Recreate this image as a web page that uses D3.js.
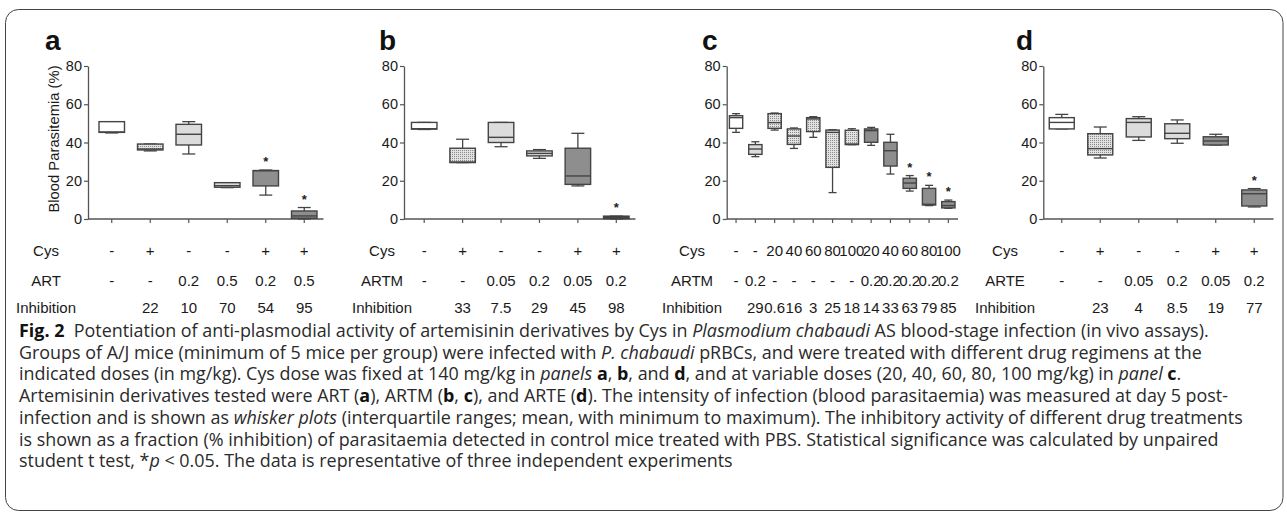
<!DOCTYPE html>
<html><head><meta charset="utf-8">
<script src="https://cdn.jsdelivr.net/npm/d3@7"></script>
<style>body{margin:0;background:#fff} svg{display:block}</style>
</head><body><svg id="chart" width="1287" height="517"></svg>
<script>
// ---------- DATA ----------
const yTicks = [0, 20, 40, 60, 80];
const yLabel = "Blood Parasitemia (%)";

// box stats: [min, q1, median, q3, max]
const aStats = [[45,45.3,45.5,50.9,50.9],[35.6,36.1,36.6,39.2,39.2],[34,38.7,44.3,49.5,50.9],[16.4,16.6,17.4,19,19],[12.5,17.3,25.3,25.3,25.6],[0,0.4,1.6,4.2,6.0]];
const aFill = ["white","dotted","light","light","dark","dark"];
const aSig  = [0,0,0,0,1,1];
const aCys  = ["-","+","-","-","+","+"];
const aDrug = ["-","-","0.2","0.5","0.2","0.5"];
const aInh  = ["","22","10","70","54","95"];

const bStats = [[46.8,47,47.2,50.5,50.5],[29.5,29.5,29.8,37,41.7],[37.8,40,42.7,50.5,50.5],[31.7,33,34.3,35.6,36.3],[17.3,18.1,22.5,37,44.8],[0,0.2,0.8,1.5,1.5]];
const bFill = ["white","dotted","light","light","dark","black"];
const bSig  = [0,0,0,0,0,1];
const bCys  = ["-","+","-","-","+","+"];
const bDrug = ["-","-","0.05","0.2","0.05","0.2"];
const bInh  = ["","33","7.5","29","45","98"];

const cStats = [[45.3,47.4,53,54,55.1],[32.6,33.8,36.6,38.9,40.4],[46.5,47.4,50.4,55.1,55.4],[36.9,39,43.4,47.1,47.6],[42.7,45.7,52.3,53,53.5],[13.8,27,45.3,46.5,46.7],[38.9,38.9,39.2,46.4,47.2],[38.5,40.1,46.2,47.1,47.9],[23.5,27.7,35.7,40.1,44.3],[14.6,16,18.8,21.3,22.7],[7,7.3,7.7,16,17.6],[5.6,5.8,7,9.1,9.9]];
const cFill = ["white","light","dotted","dotted","dotted","dotted","dotted","dark","dark","dark","dark","dark"];
const cSig  = [0,0,0,0,0,0,0,0,0,1,1,1];
const cCys  = ["-","-","20","40","60","80","100","20","40","60","80","100"];
const cDrug = ["-","0.2","-","-","-","-","-","0.2","0.2","0.2","0.2","0.2"];
const cInh  = ["","29","0.6","16","3","25","18","14","33","63","79","85"];

const dStats = [[47.1,47.1,50.5,53,54.7],[31.9,33.5,36.8,44.6,48.1],[41.1,42.9,50.5,52.5,53.5],[39.6,42,44.8,49.8,51.8],[38.7,38.7,40.8,43,44.3],[6.3,6.8,13.2,15.2,15.9]];
const dFill = ["white","dotted","light","light","dark","dark"];
const dSig  = [0,0,0,0,0,1];
const dCys  = ["-","+","-","-","+","+"];
const dDrug = ["-","-","0.05","0.2","0.05","0.2"];
const dInh  = ["","23","4","8.5","19","77"];

// ---------- LAYOUT ----------
const panels = [
  {letter:"a", stats:aStats, fill:aFill, sig:aSig, cys:aCys, drug:aDrug, inh:aInh, drugName:"ART",
   axisX:88, r0:92.5, r1:323.5, boxW:25.5, capW:13, labelX:46, letterX:45, yLabel:true},
  {letter:"b", stats:bStats, fill:bFill, sig:bSig, cys:bCys, drug:bDrug, inh:bInh, drugName:"ARTM",
   axisX:404, r0:405, r1:635.5, boxW:25.5, capW:13, labelX:382, letterX:379},
  {letter:"c", stats:cStats, fill:cFill, sig:cSig, cys:cCys, drug:cDrug, inh:cInh, drugName:"ARTM",
   axisX:726.7, r0:726.4, r1:958, boxW:13.3, capW:8, labelX:692, letterX:702},
  {letter:"d", stats:dStats, fill:dFill, sig:dSig, cys:dCys, drug:dDrug, inh:dInh, drugName:"ARTE",
   axisX:1043.3, r0:1042.5, r1:1273.5, boxW:25, capW:13, labelX:1005, letterX:1016}
];

const svg = d3.select("#chart");
const FONT = "'Liberation Sans', Arial, Helvetica, sans-serif";
const INK = "#1a1a1a", AX = "#555";
const fills = {white:"#ffffff", light:"#dcdcdc", dark:"#8e8e8e", black:"#1e1e1e", dotted:"url(#dots)"};

const defs = svg.append("defs");
const pat = defs.append("pattern").attr("id","dots").attr("patternUnits","userSpaceOnUse")
  .attr("width",2).attr("height",2);
pat.append("rect").attr("width",2).attr("height",2).attr("fill","#e2e2e2");
pat.append("rect").attr("x",0).attr("y",0).attr("width",1).attr("height",1).attr("fill","#8a8a8a");

svg.append("rect").attr("x",5.5).attr("y",9.5).attr("width",1277.5).attr("height",501)
  .attr("rx",13).attr("fill","none").attr("stroke","#444").attr("stroke-width",1);

const y = d3.scaleLinear().domain([0,80]).range([219,66]);
const rowY = [255.5, 285.5, 312.5];

panels.forEach(p => {
  const g = svg.append("g");
  const x = d3.scaleBand().domain(d3.range(p.stats.length)).range([p.r0, p.r1]);
  const cx = i => x(i) + x.bandwidth()/2;

  g.append("text").attr("x",p.letterX).attr("y",50).text(p.letter)
    .attr("font-family",FONT).attr("font-weight","bold").attr("font-size",28).attr("fill","#111");

  const ya = g.append("g").attr("transform",`translate(${p.axisX},0)`)
    .call(d3.axisLeft(y).tickValues(yTicks).tickSize(4).tickSizeOuter(0).tickPadding(2));
  ya.select(".domain").attr("stroke",AX).attr("stroke-width",1.3);
  ya.selectAll(".tick line").attr("stroke",AX).attr("stroke-width",1.2);
  ya.selectAll(".tick text").attr("font-family",FONT).attr("font-size",14.5).attr("fill",INK);

  const xa = g.append("g").attr("transform","translate(0,219)")
    .call(d3.axisBottom(x).tickSize(4).tickSizeOuter(0).tickFormat(""));
  xa.select(".domain").remove();
  xa.selectAll(".tick line").attr("stroke",AX).attr("stroke-width",1.2);
  g.append("line").attr("x1",p.axisX).attr("x2",p.r1).attr("y1",219).attr("y2",219)
    .attr("stroke",AX).attr("stroke-width",1.3);

  if (p.yLabel) {
    g.append("text").attr("transform","translate(59,139) rotate(-90)").attr("text-anchor","middle")
      .text(yLabel).attr("font-family",FONT).attr("font-size",14.8).attr("fill",INK);
  }

  const bx = g.selectAll("g.box").data(p.stats).join("g").attr("class","box");
  bx.append("line").attr("x1",(d,i)=>cx(i)).attr("x2",(d,i)=>cx(i))
    .attr("y1",d=>y(d[4])).attr("y2",d=>y(d[0])).attr("stroke","#444").attr("stroke-width",1.3);
  bx.append("line").attr("x1",(d,i)=>cx(i)-p.capW/2).attr("x2",(d,i)=>cx(i)+p.capW/2)
    .attr("y1",d=>y(d[4])).attr("y2",d=>y(d[4])).attr("stroke","#444").attr("stroke-width",1.3);
  bx.append("line").attr("x1",(d,i)=>cx(i)-p.capW/2).attr("x2",(d,i)=>cx(i)+p.capW/2)
    .attr("y1",d=>y(d[0])).attr("y2",d=>y(d[0])).attr("stroke","#444").attr("stroke-width",1.3);
  bx.append("rect").attr("x",(d,i)=>cx(i)-p.boxW/2).attr("width",p.boxW)
    .attr("y",d=>y(d[3])).attr("height",d=>Math.max(0.5,y(d[1])-y(d[3])))
    .attr("fill",(d,i)=>fills[p.fill[i]]).attr("stroke","#444").attr("stroke-width",1.4);
  bx.append("line").attr("x1",(d,i)=>cx(i)-p.boxW/2).attr("x2",(d,i)=>cx(i)+p.boxW/2)
    .attr("y1",d=>y(d[2])).attr("y2",d=>y(d[2])).attr("stroke","#444").attr("stroke-width",1.4);
  bx.filter((d,i)=>p.sig[i]).append("text")
    .attr("x",d=>cx(p.stats.indexOf(d))).attr("y",d=>y(d[4])-4).attr("text-anchor","middle")
    .text("*").attr("font-family",FONT).attr("font-weight","bold").attr("font-size",13).attr("fill","#222");

  const labels = ["Cys", p.drugName, "Inhibition"];
  const rows = [p.cys, p.drug, p.inh];
  labels.forEach((lab,r) => {
    g.append("text").attr("x",p.labelX).attr("y",rowY[r]).attr("text-anchor","middle").text(lab)
      .attr("font-family",FONT).attr("font-size",15).attr("fill",INK);
    g.selectAll(null).data(rows[r]).join("text")
      .attr("x",(d,i)=>cx(i)).attr("y",rowY[r]).attr("text-anchor","middle").text(d=>d)
      .attr("font-family",FONT).attr("font-size",15).attr("fill",INK);
  });
});

// ---------- CAPTION ----------
const caption = [
  [["Fig. 2","b"],["  Potentiation of anti-plasmodial activity of artemisinin derivatives by Cys in "],["Plasmodium chabaudi","i"],[" AS blood-stage infection (in vivo assays)."]],
  [["Groups of A/J mice (minimum of 5 mice per group) were infected with "],["P. chabaudi","i"],[" pRBCs, and were treated with different drug regimens at the"]],
  [["indicated doses (in mg/kg). Cys dose was fixed at 140 mg/kg in "],["panels","i"],[" "],["a","b"],[", "],["b","b"],[", and "],["d","b"],[", and at variable doses (20, 40, 60, 80, 100 mg/kg) in "],["panel","i"],[" "],["c","b"],["."]],
  [["Artemisinin derivatives tested were ART ("],["a","b"],["), ARTM ("],["b","b"],[", "],["c","b"],["), and ARTE ("],["d","b"],["). The intensity of infection (blood parasitaemia) was measured at day 5 post-"]],
  [["infection and is shown as "],["whisker plots","i"],[" (interquartile ranges; mean, with minimum to maximum). The inhibitory activity of different drug treatments"]],
  [["is shown as a fraction (% inhibition) of parasitaemia detected in control mice treated with PBS. Statistical significance was calculated by unpaired"]],
  [["student t test, *"],["p","i"],[" < 0.05. The data is representative of three independent experiments"]]
];
const capG = svg.append("g");
const capFont = "'Open Sans', 'Noto Sans', sans-serif";
const capLines = caption.map((segs,li) => {
  const t = capG.append("text").attr("x",19).attr("y",337 + li*21.7)
    .attr("font-family",capFont).attr("font-size",16).attr("fill","#2a2a2a").attr("xml:space","preserve");
  segs.forEach(s => {
    const ts = t.append("tspan").text(s[0]);
    if (s[1]==="b") ts.attr("font-weight","bold").attr("fill","#111");
    if (s[1]==="i") ts.attr("font-style","italic");
  });
  return t;
});
const w5 = capLines[4].node().getComputedTextLength();
const capSize = 16 * (1244 - 19) / w5;
capLines.forEach(t => t.attr("font-size", capSize));
</script></body></html>
